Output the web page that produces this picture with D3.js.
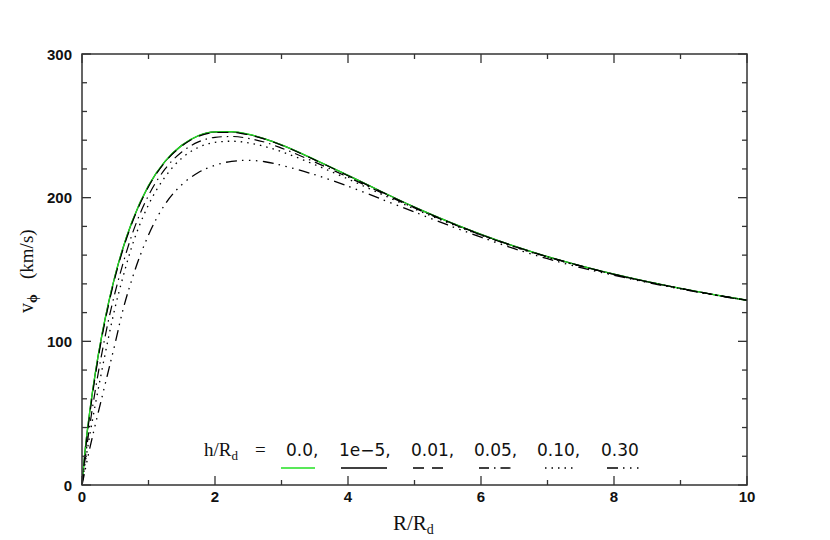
<!DOCTYPE html>
<html><head><meta charset="utf-8">
<script src="https://cdn.jsdelivr.net/npm/d3@7/dist/d3.min.js"></script>
<style>html,body{margin:0;padding:0;background:#fff;}svg{display:block;}</style>
</head><body>
<svg id="c" width="830" height="540"></svg>
<script>
// Radii (R/R_d) at which the curves were read
const radii = [0,0.05,0.1,0.2,0.3,0.4,0.5,0.6,0.75,1.0,1.25,1.5,1.75,2.0,2.25,2.5,2.75,3.0,3.5,4.0,4.5,5.0,5.5,6.0,6.5,7.0,7.5,8.0,8.5,9.0,9.5,10];
// v_phi (km/s) for each h/R_d
const v_h0     = [0,25.4,45.2,77.9,104.6,127.0,146.2,162.6,183.0,208.4,225.4,236.4,243.2,245.8,245.9,244.2,241.0,236.8,226.5,215.5,204.3,193.4,183.5,174.4,166.2,158.9,152.5,146.7,141.5,136.8,132.5,128.6];
const v_h1e5   = [0,25.3,45.1,77.8,104.5,126.9,146.1,162.5,182.9,208.3,225.3,236.4,243.1,245.7,245.8,244.1,240.9,236.7,226.4,215.5,204.3,193.4,183.5,174.4,166.2,158.9,152.5,146.7,141.5,136.8,132.5,128.6];
const v_h001   = [0,23,43,76,103,125.5,145,161.5,182,207.6,224.8,235.9,242.7,245.3,245.5,243.8,240.7,236.5,226.3,215.3,204.1,193.3,183.4,174.3,166.2,158.9,152.5,146.6,141.5,136.8,132.5,128.6];
const v_h005   = [0,19,36,66,92,115,134.5,151.5,174,201.5,220,231.8,238.8,242,242.6,241.3,238.6,234.5,224.8,214.3,203.5,192.8,183.1,174.1,166.0,158.8,152.4,146.6,141.5,136.8,132.5,128.6];
const v_h010   = [0,16,30,56,80,103,124,142,166,195,214.5,227.5,235,238.5,239.3,238.2,235.6,232,223,213,202.5,192.2,182.6,173.7,165.7,158.5,152.2,146.4,141.3,136.7,132.4,128.5];
const v_h030   = [0,11,22,42,61,80,99,119,143,174,195.5,209,217.5,222.5,225.3,226,225,222.5,216,208,199,190,181,172.5,164.5,157.5,151.3,146,141,136.5,132.3,128.5];
const legendLabels = ["0.0,","1e\u22125,","0.01,","0.05,","0.10,","0.30"];
const xTicks = [0,2,4,6,8,10];
const yTicks = [0,100,200,300];

const series = [
  {v:v_h0,   color:"#22e022", width:1.3, dash:null},
  {v:v_h1e5, color:"#000", width:1.3, dash:null},
  {v:v_h001, color:"#000", width:1.2, dash:"11,8"},
  {v:v_h005, color:"#000", width:1.2, dash:"10,5,1.5,5"},
  {v:v_h010, color:"#000", width:1.3, dash:"1.5,5"},
  {v:v_h030, color:"#000", width:1.3, dash:"11,5,1.5,5.5,1.5,5.5,1.5,5.5"}
];
const drawOrder = [1,0,2,3,4,5];

const L=82, R=747, T=54, B=485;
const svg = d3.select("#c");
const x = d3.scaleLinear().domain([0,10]).range([L,R]);
const y = d3.scaleLinear().domain([0,300]).range([B,T]);

const line = d3.line().x((d,i)=>x(radii[i])).y(d=>y(d)).curve(d3.curveMonotoneX);
drawOrder.forEach(k=>{
  const s = series[k];
  svg.append("path").attr("d",line(s.v)).attr("fill","none")
    .attr("stroke",s.color).attr("stroke-width",s.width)
    .attr("stroke-dasharray",s.dash);
});

// frame
svg.append("rect").attr("x",L).attr("y",T).attr("width",R-L).attr("height",B-T)
  .attr("fill","none").attr("stroke","#333").attr("stroke-width",1.5);

// ticks on all four sides
const xMinor = d3.range(0,10.01,1), yMinor = d3.range(0,300.1,20);
const tk = svg.append("g").attr("stroke","#333").attr("stroke-width",1.3);
xMinor.forEach(t=>{
  const len = xTicks.includes(t)?9:5;
  tk.append("line").attr("x1",x(t)).attr("x2",x(t)).attr("y1",B).attr("y2",B-len);
  tk.append("line").attr("x1",x(t)).attr("x2",x(t)).attr("y1",T).attr("y2",T+len);
});
yMinor.forEach(t=>{
  const len = yTicks.includes(t)?9:5;
  tk.append("line").attr("y1",y(t)).attr("y2",y(t)).attr("x1",L).attr("x2",L+len);
  tk.append("line").attr("y1",y(t)).attr("y2",y(t)).attr("x1",R).attr("x2",R-len);
});

const sans = "'Liberation Sans', Arial, sans-serif";
const legSans = "'DejaVu Sans', sans-serif";
const serif = "'Liberation Serif', 'Times New Roman', serif";
xTicks.forEach(t=>{
  svg.append("text").attr("x",x(t)).attr("y",B+17).attr("text-anchor","middle")
    .attr("font-family",sans).attr("font-size",15).attr("font-weight","bold").attr("fill","#111").text(t);
});
yTicks.forEach(t=>{
  svg.append("text").attr("x",L-10).attr("y",y(t)+5.5).attr("text-anchor","end")
    .attr("font-family",sans).attr("font-size",15).attr("font-weight","bold").attr("fill","#111").text(t);
});

// axis titles
const xt = svg.append("text").attr("x",393).attr("y",530).attr("font-family",serif).attr("font-size",21).attr("fill","#111");
xt.append("tspan").text("R/R");
xt.append("tspan").attr("font-size",14).attr("dy",4).text("d");

const yt = svg.append("text").attr("transform","translate(33,313) rotate(-90)").attr("font-family",serif).attr("font-size",20).attr("fill","#111");
yt.append("tspan").text("v");
yt.append("tspan").attr("font-size",14).attr("font-weight","bold").attr("dy",4).text("\u03d5");
svg.append("text").attr("transform","translate(33,279) rotate(-90)").attr("font-family",serif).attr("font-size",19).attr("fill","#111").text("(km/s)");

// legend
const lg = svg.append("text").attr("x",204).attr("y",456).attr("font-family",serif).attr("font-size",19).attr("fill","#111");
lg.append("tspan").text("h/R");
lg.append("tspan").attr("font-size",13).attr("dy",4).text("d");
svg.append("text").attr("x",255).attr("y",456).attr("font-family",serif).attr("font-size",19).attr("fill","#111").text("=");
const labX = [286,339,411,474,537,601];
const smp = [[281,315],[341,387],[413,446],[479,511],[545,577],[607,640]];
legendLabels.forEach((t,i)=>{
  svg.append("text").attr("x",labX[i]).attr("y",456).attr("font-family",legSans).attr("font-size",17).attr("fill","#111").text(t);
  svg.append("line").attr("x1",smp[i][0]).attr("x2",smp[i][1]).attr("y1",468).attr("y2",468)
    .attr("stroke",series[i].color).attr("stroke-width",1.4).attr("stroke-dasharray",series[i].dash);
});
</script>
</body></html>
